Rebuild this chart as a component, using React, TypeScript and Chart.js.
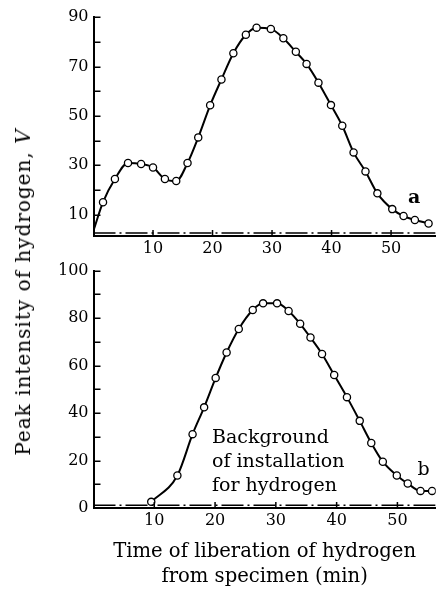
import React, { useEffect, useRef } from 'react';
import { Chart, registerables } from 'chart.js';
Chart.register(...registerables);

// ---- data ----
const topTimes = [0, 1.6, 3.6, 5.8, 8.0, 10.0, 12.0, 13.9, 15.8, 17.6, 19.6, 21.5, 23.5, 25.6, 27.4, 29.8, 31.9, 34.0, 35.8, 37.8, 39.9, 41.8, 43.7, 45.7, 47.7, 50.2, 52.1, 54.0, 56.3];
const topValues = [3.5, 15.0, 24.4, 30.9, 30.5, 29.1, 24.4, 23.6, 30.9, 41.3, 54.3, 64.8, 75.4, 82.9, 85.8, 85.3, 81.5, 76.0, 71.1, 63.5, 54.4, 46.0, 35.2, 27.5, 18.6, 12.2, 9.4, 7.8, 6.4];
const bottomTimes = [9.5, 13.8, 16.3, 18.2, 20.1, 21.9, 23.9, 26.2, 27.9, 30.2, 32.1, 34.0, 35.7, 37.6, 39.6, 41.7, 43.8, 45.7, 47.6, 49.9, 51.7, 53.8, 55.7];
const bottomValues = [2.6, 13.7, 31.1, 42.4, 54.8, 65.5, 75.4, 83.4, 86.2, 86.2, 83.0, 77.6, 71.8, 64.9, 56.0, 46.7, 36.7, 27.4, 19.5, 13.7, 10.3, 7.2, 7.2];
const topBackground = 2.5;
const bottomBackground = 1.2;
const topYTickLabels = [10, 30, 50, 70, 90];
const topYTickMarks = [10, 20, 30, 40, 50, 60, 70, 80, 90];
const bottomYTickLabels = [0, 20, 40, 60, 80, 100];
const bottomYTickMarks = [10, 20, 30, 40, 50, 60, 70, 80, 90, 100];
const xTickLabels = [10, 20, 30, 40, 50];
const yTitle = 'Peak intensity of hydrogen, ';
const yTitleUnit = 'V';
const xTitle = ['Time of liberation of hydrogen', 'from specimen (min)'];
const curveALabel = 'a';
const curveBLabel = 'b';
const backgroundNote = ['Background', 'of installation', 'for hydrogen'];

const FONT = "'DejaVu Serif', serif";

type Note = { lines: string[]; x: number; y: number; font: string; align: CanvasTextAlign; lh: number };

function decor(yMarks: number[], xMarks: number[], notes: Note[]) {
  return {
    id: 'decor',
    afterDraw(chart: any) {
      const { ctx, chartArea, scales } = chart;
      ctx.save();
      ctx.strokeStyle = '#000';
      ctx.lineWidth = 1.5;
      for (const v of yMarks) {
        const py = Math.round(scales.y.getPixelForValue(v)) + 0.25;
        ctx.beginPath();
        ctx.moveTo(chartArea.left, py);
        ctx.lineTo(chartArea.left + 7, py);
        ctx.stroke();
      }
      for (const v of xMarks) {
        const px = scales.x.getPixelForValue(v);
        ctx.beginPath();
        ctx.moveTo(px, chartArea.bottom);
        ctx.lineTo(px, chartArea.bottom - 6);
        ctx.stroke();
      }
      ctx.fillStyle = '#000';
      ctx.textBaseline = 'middle';
      for (const n of notes) {
        ctx.font = n.font;
        ctx.textAlign = n.align;
        const px = scales.x.getPixelForValue(n.x);
        const py = scales.y.getPixelForValue(n.y);
        n.lines.forEach((line, i) => ctx.fillText(line, px, py + i * n.lh));
      }
      ctx.restore();
    },
  };
}

function makeConfig(opts: {
  times: number[]; values: number[]; bg: number; firstHidden: boolean;
  xMax: number; yMin: number; yMax: number; yLabels: number[];
  padding: any; xHeight: number; xTitle?: string[];
  yMarks: number[]; notes: Note[];
}): any {
  const pts = opts.times.map((t, i) => ({ x: t, y: opts.values[i] }));
  return {
    type: 'line',
    data: {
      datasets: [
        {
          data: [{ x: 0, y: opts.bg }, { x: opts.xMax, y: opts.bg }],
          borderColor: '#000',
          borderWidth: 1.5,
          borderDash: [22, 4, 2, 4],
          pointRadius: 0,
          fill: false,
        },
        {
          data: pts,
          borderColor: '#000',
          borderWidth: 2,
          cubicInterpolationMode: 'monotone',
          pointRadius: (c: any) => (opts.firstHidden && c.dataIndex === 0 ? 0 : 3.6),
          pointBackgroundColor: '#fff',
          pointBorderColor: '#000',
          pointBorderWidth: 1.3,
          fill: false,
        },
      ],
    },
    options: {
      animation: false,
      responsive: false,
      events: [],
      layout: { padding: opts.padding },
      plugins: { legend: { display: false }, tooltip: { enabled: false } },
      scales: {
        x: {
          type: 'linear',
          min: 0,
          max: opts.xMax,
          grid: { display: false, drawTicks: false },
          border: { display: true, width: 2, color: '#000' },
          afterBuildTicks: (s: any) => { s.ticks = xTickLabels.map((v) => ({ value: v })); },
          afterFit: (s: any) => { s.height = opts.xHeight; },
          ticks: { padding: 3, color: '#000', font: { family: FONT, size: 16 } },
          title: opts.xTitle
            ? { display: true, text: opts.xTitle, color: '#000', font: { family: FONT, size: 19.6, lineHeight: 1.3 }, padding: { top: 0, bottom: 2 } }
            : { display: false },
        },
        y: {
          type: 'linear',
          min: opts.yMin,
          max: opts.yMax,
          grid: { display: false, drawTicks: false },
          border: { display: true, width: 2, color: '#000' },
          afterBuildTicks: (s: any) => { s.ticks = opts.yLabels.map((v) => ({ value: v })); },
          afterFit: (s: any) => { s.width = 93.5; },
          ticks: { padding: 5, color: '#000', font: { family: FONT, size: 16 } },
        },
      },
    },
    plugins: [decor(opts.yMarks, xTickLabels, opts.notes)],
  };
}

export default function App() {
  const topRef = useRef<HTMLCanvasElement>(null);
  const botRef = useRef<HTMLCanvasElement>(null);

  useEffect(() => {
    document.body.style.margin = '0';
    const top = new Chart(
      topRef.current!,
      makeConfig({
        times: topTimes, values: topValues, bg: topBackground, firstHidden: true,
        xMax: 57.5, yMin: 1.3, yMax: 90, yLabels: topYTickLabels,
        padding: { left: 0, right: 2, top: 17.3, bottom: 0 }, xHeight: 20,
        yMarks: topYTickMarks,
        notes: [{ lines: [curveALabel], x: 53.9, y: 16.7, font: `bold 19px ${FONT}`, align: 'center', lh: 24 }],
      })
    );
    const bot = new Chart(
      botRef.current!,
      makeConfig({
        times: bottomTimes, values: bottomValues, bg: bottomBackground, firstHidden: false,
        xMax: 56.3, yMin: 0, yMax: 100, yLabels: bottomYTickLabels,
        padding: { left: 0, right: 0, top: 9, bottom: 0 }, xHeight: 84, xTitle,
        yMarks: bottomYTickMarks,
        notes: [
          { lines: [curveBLabel], x: 54.3, y: 15.8, font: `19px ${FONT}`, align: 'center', lh: 24 },
          { lines: backgroundNote, x: 19.5, y: 29.5, font: `19px ${FONT}`, align: 'left', lh: 24.2 },
        ],
      })
    );
    return () => { top.destroy(); bot.destroy(); };
  }, []);

  return (
    <div style={{ position: 'absolute', left: 0, top: 0, width: 441, height: 592, background: '#fff', overflow: 'hidden' }}>
      <canvas ref={topRef} width={441} height={256} style={{ position: 'absolute', left: 0, top: 0 }} />
      <canvas ref={botRef} width={441} height={336} style={{ position: 'absolute', left: 0, top: 256 }} />
      <div
        style={{
          position: 'absolute', left: 23, top: 291.5, transform: 'translate(-50%, -50%) rotate(-90deg)',
          whiteSpace: 'nowrap', fontFamily: FONT, fontSize: 20, letterSpacing: 1, color: '#000', lineHeight: 1,
        }}
      >
        {yTitle}<i>{yTitleUnit}</i>
      </div>
    </div>
  );
}
